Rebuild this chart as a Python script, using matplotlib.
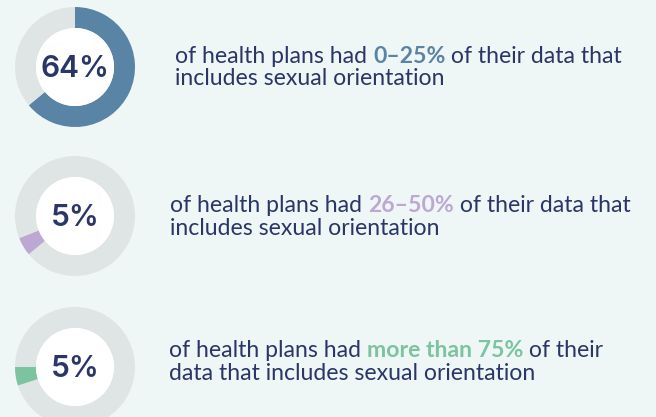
import matplotlib
matplotlib.use("Agg")
import matplotlib.pyplot as plt
from matplotlib.patches import Circle

W, H = 656, 417

# ---- data ----
center_labels = ["64%", "5%", "5%"]
slice_values = [64, 5, 5]          # highlighted share of health plans
slice_offsets = [0, 64, 70]        # share of ring preceding the highlighted slice
ranges = ["0–25%", "26–50%", "more than 75%"]
line1_before = ["of health plans had ", "of health plans had ", "of health plans had "]
line1_after = [" of their data that", " of their data that", " of their"]
line2_text = ["includes sexual orientation", "includes sexual orientation",
              "data that includes sexual orientation"]
slice_colors = ["#5a84a6", "#bda8d3", "#7cc3a0"]

# ---- layout (pixels) ----
donut_cx = 75
donut_cy = [67, 216, 367]
r_out, r_in = 60, 39
text_x = [175, 170, 169]
base1 = [63, 212, 357]
base2 = [85, 235, 380]

BG = "#eff7f6"
RING = "#dfe5e5"
NAVY = "#2a3668"

fig = plt.figure(figsize=(W / 100, H / 100), dpi=100, facecolor=BG)
ax = fig.add_axes([0, 0, 1, 1])
ax.set_facecolor(BG)

for i in range(3):
    cy = H - donut_cy[i]
    rest = 100 - slice_offsets[i] - slice_values[i]
    vals = [slice_offsets[i], slice_values[i], rest]
    cols = [RING, slice_colors[i], RING]
    ax.pie(vals, colors=cols, center=(donut_cx, cy), radius=r_out, startangle=90,
           counterclock=False, wedgeprops=dict(width=r_out - r_in, linewidth=0),
           frame=True)
    ax.add_patch(Circle((donut_cx, cy), r_in, facecolor="white", edgecolor="none", zorder=3))
    ax.text(donut_cx, cy - 2, center_labels[i], ha="center", va="center", color=NAVY,
            fontsize=21.5, family="Inter", weight="semibold", zorder=4)

ax.set_xlim(0, W)
ax.set_ylim(0, H)
ax.set_aspect("auto")
ax.axis("off")

renderer = fig.canvas.get_renderer()
body = dict(fontsize=16.6, family="Lato")


def width(s, **kw):
    t = ax.text(0, 0, s + ".", **kw)
    w1 = t.get_window_extent(renderer).width
    t.remove()
    t = ax.text(0, 0, ".", **kw)
    w2 = t.get_window_extent(renderer).width
    t.remove()
    return w1 - w2


for i in range(3):
    x = text_x[i]
    y = H - base1[i]
    pieces = [(line1_before[i], NAVY, "normal"),
              (ranges[i], slice_colors[i], "bold"),
              (line1_after[i], NAVY, "normal")]
    for s, c, wgt in pieces:
        kw = dict(body, weight=wgt)
        ax.text(x, y, s, color=c, va="baseline", ha="left", **kw)
        x += width(s, **kw)
    ax.text(text_x[i], H - base2[i], line2_text[i], color=NAVY, va="baseline",
            ha="left", **body)

fig.savefig("out.png", dpi=100, facecolor=BG)
